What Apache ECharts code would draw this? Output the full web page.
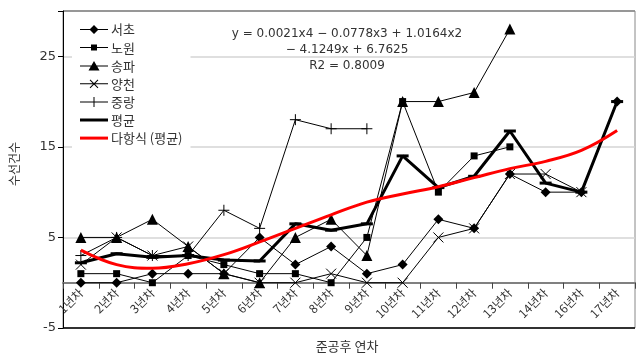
<!DOCTYPE html>
<html>
<head>
<meta charset="utf-8">
<script src="https://cdn.jsdelivr.net/npm/echarts@6/dist/echarts.min.js"></script>
<style>
  html, body { margin: 0; padding: 0; background: #fff; }
  #chart { width: 640px; height: 358px; }
</style>
</head>
<body>
<div id="chart"></div>
<script>
// Years after completion (15th year has no column)
const years = ['1년차','2년차','3년차','4년차','5년차','6년차','7년차','8년차',
               '9년차','10년차','11년차','12년차','13년차','14년차','16년차','17년차'];

// Repair counts per district
const seocho    = [0, 0, 1, 1, 1, 5, 2, 4, 1, 2, 7, 6, 12, 10, 10, 20];
const nowon     = [1, 1, 0, 3, 2, 1, 1, 0, 5, 20, 10, 14, 15, null, null, null];
const songpa    = [5, 5, 7, 4, 1, 0, 5, 7, 3, 20, 20, 21, 28, null, null, null];
const yangcheon = [2, 5, 3, 4, 1, 0, 0, 1, 0, 0, 5, 6, 12, 12, 10, null];
const jungnang  = [3, 5, 3, 3, 8, 6, 18, 17, 17, null, null, null, null, null, null, null];
const average   = [2.2, 3.2, 2.8, 3.0, 2.5, 2.4, 6.5, 5.8, 6.5, 14, 10.5, 11.75, 16.75, 11, 10, 20];
// Polynomial trend of the average
const trend     = [3.6, 2.0, 1.6, 2.1, 3.1, 4.5, 6.0, 7.5, 8.9, 9.8, 10.6, 11.6, 12.6, 13.4, 14.6, 16.8];

const yTicks = { min: -5, max: 30, step: 10 };
const equation = ['y = 0.0021x4 − 0.0778x3 + 1.0164x2', '− 4.1249x + 6.7625', 'R2 = 0.8009'];

const FONT = '"DejaVu Sans", "Noto Sans CJK KR", sans-serif';
const KFONT = '"Noto Sans CJK KR", "DejaVu Sans", sans-serif';

// marker shapes used on the plot
const crossPath = 'path://M0,0L10,10M10,0L0,10';
const plusPath = 'path://M5,0L5,10M0,5L10,5';

// legend icons: a 28px line with a small marker in the middle
const baseLine = 'M0,5.5H28V6.5H0Z';
const legendIcons = {
  diamond: 'path://' + baseLine + 'M14,1.5L18.5,6L14,10.5L9.5,6Z',
  square: 'path://' + baseLine + 'M11,3H17V9H11Z',
  triangle: 'path://' + baseLine + 'M14,1L19.5,10.5H8.5Z',
  cross: 'path://' + baseLine + 'M9.65,2.35L10.35,1.65L18.35,9.65L17.65,10.35Z' +
         'M17.65,1.65L18.35,2.35L10.35,10.35L9.65,9.65Z',
  plus: 'path://' + baseLine + 'M13.5,1H14.5V11H13.5Z',
  thick: 'path://M0,0H28V3H0Z'
};

const GRID = { left: 63, right: 5, top: 11, bottom: 30 };
const plotH = 358 - GRID.top - GRID.bottom;
// category axis sits on the zero line
const zeroOffset = -plotH * (0 - yTicks.min) / (yTicks.max - yTicks.min);

function thin(name, data, symbol, size) {
  return {
    name, type: 'line', data,
    symbol, symbolSize: size, showSymbol: true,
    lineStyle: { color: '#000', width: 1 },
    itemStyle: { color: '#000', borderColor: '#000', borderWidth: (symbol.indexOf('path') === 0 ? 1 : 0) },
    emphasis: { disabled: true },
    z: 3
  };
}

const chart = echarts.init(document.getElementById('chart'), null, { renderer: 'canvas' });
chart.setOption({
  animation: false,
  backgroundColor: '#fff',
  textStyle: { fontFamily: FONT },
  grid: Object.assign({
    show: true, borderColor: '#888', borderWidth: 1,
    containLabel: false, outerBoundsMode: 'none'
  }, GRID),
  legend: {
    orient: 'vertical', left: 72, top: 17,
    padding: [6, 8, 6, 8],
    backgroundColor: '#fff',
    itemWidth: 28, itemHeight: 12, itemGap: 5.1,
    symbolKeepAspect: true,
    itemStyle: { borderWidth: 0 },
    textStyle: { fontFamily: KFONT, fontSize: 13, color: '#333', padding: [0, 0, 0, -2] },
    data: [
      { name: '서초', icon: legendIcons.diamond },
      { name: '노원', icon: legendIcons.square },
      { name: '송파', icon: legendIcons.triangle },
      { name: '양천', icon: legendIcons.cross },
      { name: '중랑', icon: legendIcons.plus },
      { name: '평균', icon: legendIcons.thick },
      { name: '다항식 (평균)', icon: legendIcons.thick }
    ]
  },
  graphic: [
    {
      type: 'text', x: 347, y: 26, z: 10,
      style: {
        text: equation.join('\n'), font: '12px ' + FONT, fill: '#333',
        textAlign: 'center', lineHeight: 16
      }
    },
    {
      type: 'text', x: 8, y: 164, rotation: Math.PI / 2,
      style: { text: '수선건수', font: '12px ' + KFONT, fill: '#333', textAlign: 'center', textVerticalAlign: 'top' }
    },
    {
      type: 'text', x: 347, y: 340,
      style: { text: '준공후 연차', font: '13px ' + KFONT, fill: '#333', textAlign: 'center' }
    }
  ],
  xAxis: {
    type: 'category', data: years, boundaryGap: true,
    position: 'bottom', offset: zeroOffset,
    axisLine: { onZero: false, lineStyle: { color: '#808080', width: 2 } },
    axisTick: { show: true, alignWithLabel: false, length: 6, lineStyle: { color: '#444', width: 1 } },
    axisLabel: { interval: 0, rotate: 45, fontFamily: KFONT, fontSize: 12, color: '#333', margin: 8 },
    splitLine: { show: false }
  },
  yAxis: {
    type: 'value', min: yTicks.min, max: yTicks.max, interval: yTicks.step,
    axisLine: { show: true, onZero: false, lineStyle: { color: '#000', width: 1 } },
    axisTick: { show: true, length: 5, lineStyle: { color: '#000' } },
    axisLabel: {
      fontSize: 13, color: '#333', margin: 7,
      formatter: v => (v === yTicks.max ? '' : String(v))
    },
    splitLine: { show: true, lineStyle: { color: ['#000', '#d4d4d4', '#d4d4d4', '#d4d4d4', '#888'], width: 1.5 } }
  },
  series: [
    thin('서초', seocho, 'diamond', 10),
    thin('노원', nowon, 'rect', 7),
    thin('송파', songpa, 'triangle', 11),
    thin('양천', yangcheon, crossPath, 10),
    thin('중랑', jungnang, plusPath, 11),
    {
      name: '평균', type: 'line', data: average,
      symbol: 'rect', symbolSize: [12, 3], showSymbol: true,
      lineStyle: { color: '#000', width: 3 },
      itemStyle: { color: '#000' },
      emphasis: { disabled: true },
      z: 4
    },
    {
      name: '다항식 (평균)', type: 'line', data: trend,
      smooth: 0.4, symbol: 'none',
      lineStyle: { color: '#ff0000', width: 3 },
      itemStyle: { color: '#ff0000' },
      emphasis: { disabled: true },
      z: 5
    }
  ]
});
</script>
</body>
</html>
